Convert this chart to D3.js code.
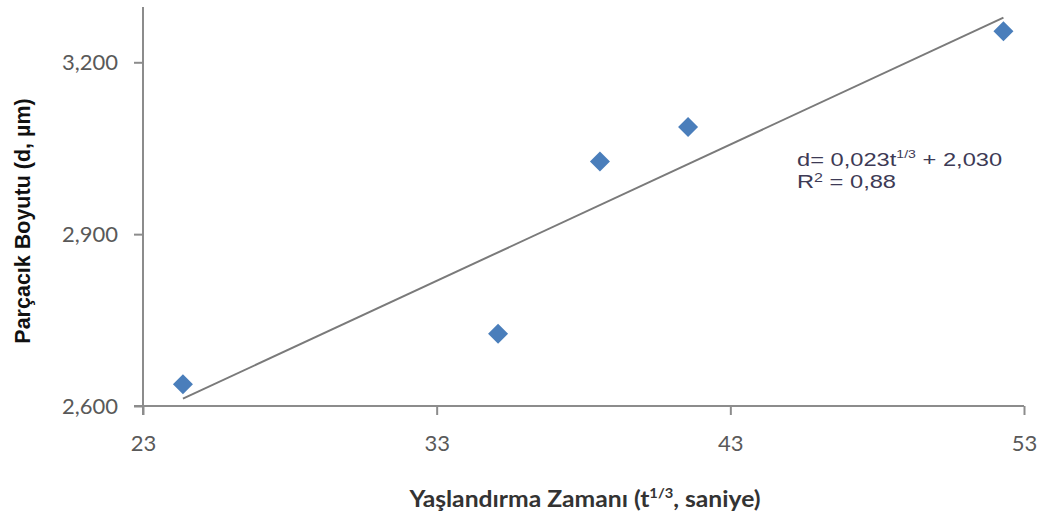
<!DOCTYPE html>
<html>
<head>
<meta charset="utf-8">
<script src="https://cdn.jsdelivr.net/npm/d3@7"></script>
<style>
  body { margin: 0; background: #fff; }
  svg { display: block; }
</style>
</head>
<body>
<script>
// data (d in µm, decimal comma in labels)
const times = [24.36, 35.09, 38.56, 41.56, 52.3];
const sizes = [2638, 2726, 3027, 3087, 3254];
const xTicks = [23, 33, 43, 53];
const yTicks = [2600, 2900, 3200];
const yTickLabels = ["2,600", "2,900", "3,200"];

const width = 1046, height = 523;
const svg = d3.select("body").append("svg")
    .attr("width", width)
    .attr("height", height);

const x = d3.scaleLinear().domain([23, 53]).range([143, 1024]);
const y = d3.scaleLinear().domain([2600, 3300]).range([406, 5]);

const axisColor = "#8c8c8c";

// axes
const gx = svg.append("g")
    .attr("transform", `translate(0,${y(2600)})`)
    .call(d3.axisBottom(x).tickValues(xTicks).tickSize(9).tickPadding(20));
const gy = svg.append("g")
    .attr("transform", `translate(${x(23)},0)`)
    .call(d3.axisLeft(y).tickValues(yTicks).tickSize(9).tickPadding(16)
        .tickFormat((d, i) => yTickLabels[i]));

[gx, gy].forEach(g => {
    g.select(".domain").attr("stroke", axisColor).attr("stroke-width", 2);
    g.selectAll(".tick line").attr("stroke", axisColor).attr("stroke-width", 2);
    g.selectAll(".tick text")
        .attr("fill", "#595959")
        .style("font-family", "Lato, 'Open Sans', sans-serif")
        .style("font-size", "22px");
});
// y axis runs down past the x axis a little
gy.select(".domain").attr("d", `M0,${y(3300) + 2}V${y(2600) + 9}`);
gx.select(".domain").attr("d", `M${x(23) - 9},0H${x(53)}`);

// linear trend line (least squares)
const mx = d3.mean(times), my = d3.mean(sizes);
const slope = d3.sum(times, (t, i) => (t - mx) * (sizes[i] - my)) /
    d3.sum(times, t => (t - mx) * (t - mx));
const icpt = my - slope * mx;
const xMin = d3.min(times), xMax = d3.max(times);
svg.append("line")
    .attr("x1", x(xMin)).attr("y1", y(icpt + slope * xMin))
    .attr("x2", x(xMax)).attr("y2", y(icpt + slope * xMax))
    .attr("stroke", "#7a7a7a")
    .attr("stroke-width", 2);

// diamond markers
const r = 10;
svg.selectAll(".pt")
    .data(times.map((t, i) => ({ t, d: sizes[i] })))
    .enter()
    .append("path")
    .attr("class", "pt")
    .attr("d", d => `M${x(d.t)},${y(d.d) - r}L${x(d.t) + r},${y(d.d)}L${x(d.t)},${y(d.d) + r}L${x(d.t) - r},${y(d.d)}Z`)
    .attr("fill", "#4a7ebb");

// equation (the source picture is stretched sideways a bit)
const eqg = svg.append("g").attr("transform", "translate(797,0) scale(1.28,1)");
const eq = eqg.append("text")
    .attr("x", 0).attr("y", 166)
    .attr("fill", "#3d3a55")
    .style("font-family", "'Liberation Sans', Arial, sans-serif")
    .style("font-size", "18.5px");
eq.append("tspan").text("d= 0,023t");
eq.append("tspan").attr("dy", -8).style("font-size", "11px").text("1/3");
eq.append("tspan").attr("dy", 8).text(" + 2,030");
const r2 = eqg.append("text")
    .attr("x", 0).attr("y", 188)
    .attr("fill", "#3d3a55")
    .style("font-family", "'Liberation Sans', Arial, sans-serif")
    .style("font-size", "18.5px");
r2.append("tspan").text("R");
r2.append("tspan").attr("dy", -6).style("font-size", "12.5px").text("2");
r2.append("tspan").attr("dy", 6).text(" = 0,88");

// axis titles
svg.append("text")
    .attr("transform", `translate(30,221) rotate(-90)`)
    .attr("text-anchor", "middle")
    .attr("fill", "#111")
    .style("font-family", "'Liberation Sans', Arial, sans-serif")
    .style("font-weight", "bold")
    .style("font-size", "21.5px")
    .text("Parçacık Boyutu (d, µm)");

const xt = svg.append("text")
    .attr("transform", "translate(585,507) scale(1.05,1)")
    .attr("text-anchor", "middle")
    .attr("fill", "#333")
    .style("font-family", "Lato, 'Open Sans', sans-serif")
    .style("font-weight", "bold")
    .style("font-size", "23.5px");
xt.append("tspan").text("Yaşlandırma Zamanı (t");
xt.append("tspan").attr("dy", -9).style("font-size", "14px").text("1/3");
xt.append("tspan").attr("dy", 9).text(", saniye)");
</script>
</body>
</html>
